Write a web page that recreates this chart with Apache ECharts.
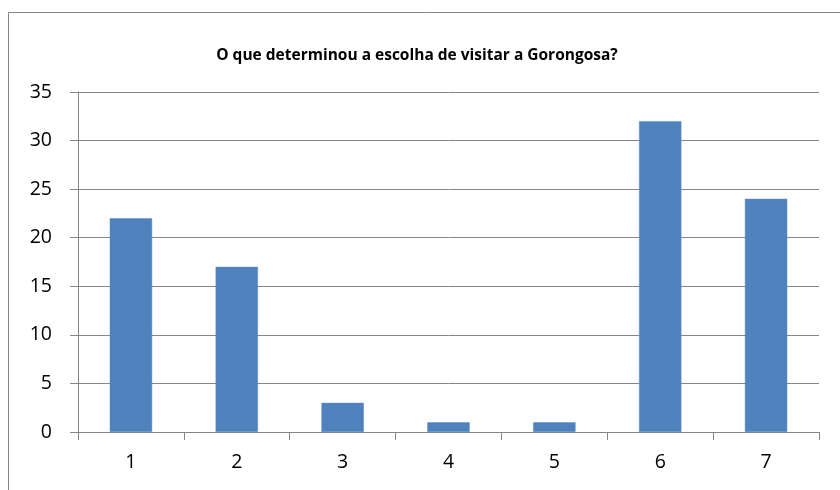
<!DOCTYPE html>
<html><head><meta charset="utf-8">
<script src="https://cdn.jsdelivr.net/npm/echarts@6/dist/echarts.min.js"></script>
<style>html,body{margin:0;padding:0;background:#fff}#c{width:840px;height:490px}</style>
</head><body><div id="c"></div>
<script>
const categories = ['1','2','3','4','5','6','7'];
const values = [22, 17, 3, 1, 1, 32, 24];
const yTicks = [0, 5, 10, 15, 20, 25, 30, 35];
const titleText = 'O que determinou a escolha de visitar a Gorongosa?';

const chart = echarts.init(document.getElementById('c'), null, {renderer:'canvas'});
chart.setOption({
  animation: false,
  backgroundColor: '#fff',
  title: {
    text: titleText, left: 412, top: 43, textAlign: 'center',
    textStyle: {fontFamily: 'Open Sans', fontWeight: 'bold', fontSize: 15.5, color: '#000'}
  },
  graphic: [{
    type: 'rect', shape: {x: 8.5, y: 12.5, width: 900, height: 600},
    style: {fill: 'none', stroke: '#868686', lineWidth: 1}, silent: true
  }],
  grid: {left: 78, right: 21, top: 92, bottom: 58},
  xAxis: {
    type: 'category', data: categories,
    axisLine: {lineStyle: {color: '#868686', width: 1}},
    axisTick: {show: true, length: 8, alignWithLabel: false, lineStyle: {color: '#868686'}},
    axisLabel: {fontFamily: 'Open Sans', fontSize: 19.5, color: '#000', margin: 20}
  },
  yAxis: {
    type: 'value', min: yTicks[0], max: yTicks[yTicks.length-1], interval: 5,
    axisLine: {show: true, lineStyle: {color: '#868686', width: 1}},
    axisTick: {show: true, length: 8, lineStyle: {color: '#868686'}},
    splitLine: {lineStyle: {color: '#868686', width: 1}},
    axisLabel: {fontFamily: 'Open Sans', fontSize: 19.5, color: '#000', margin: 26}
  },
  series: [{
    type: 'bar', data: values, barWidth: '40%',
    itemStyle: {color: '#4F81BD', borderColor: '#5B8CC6', borderWidth: 0.5}
  }]
});
</script></body></html>
